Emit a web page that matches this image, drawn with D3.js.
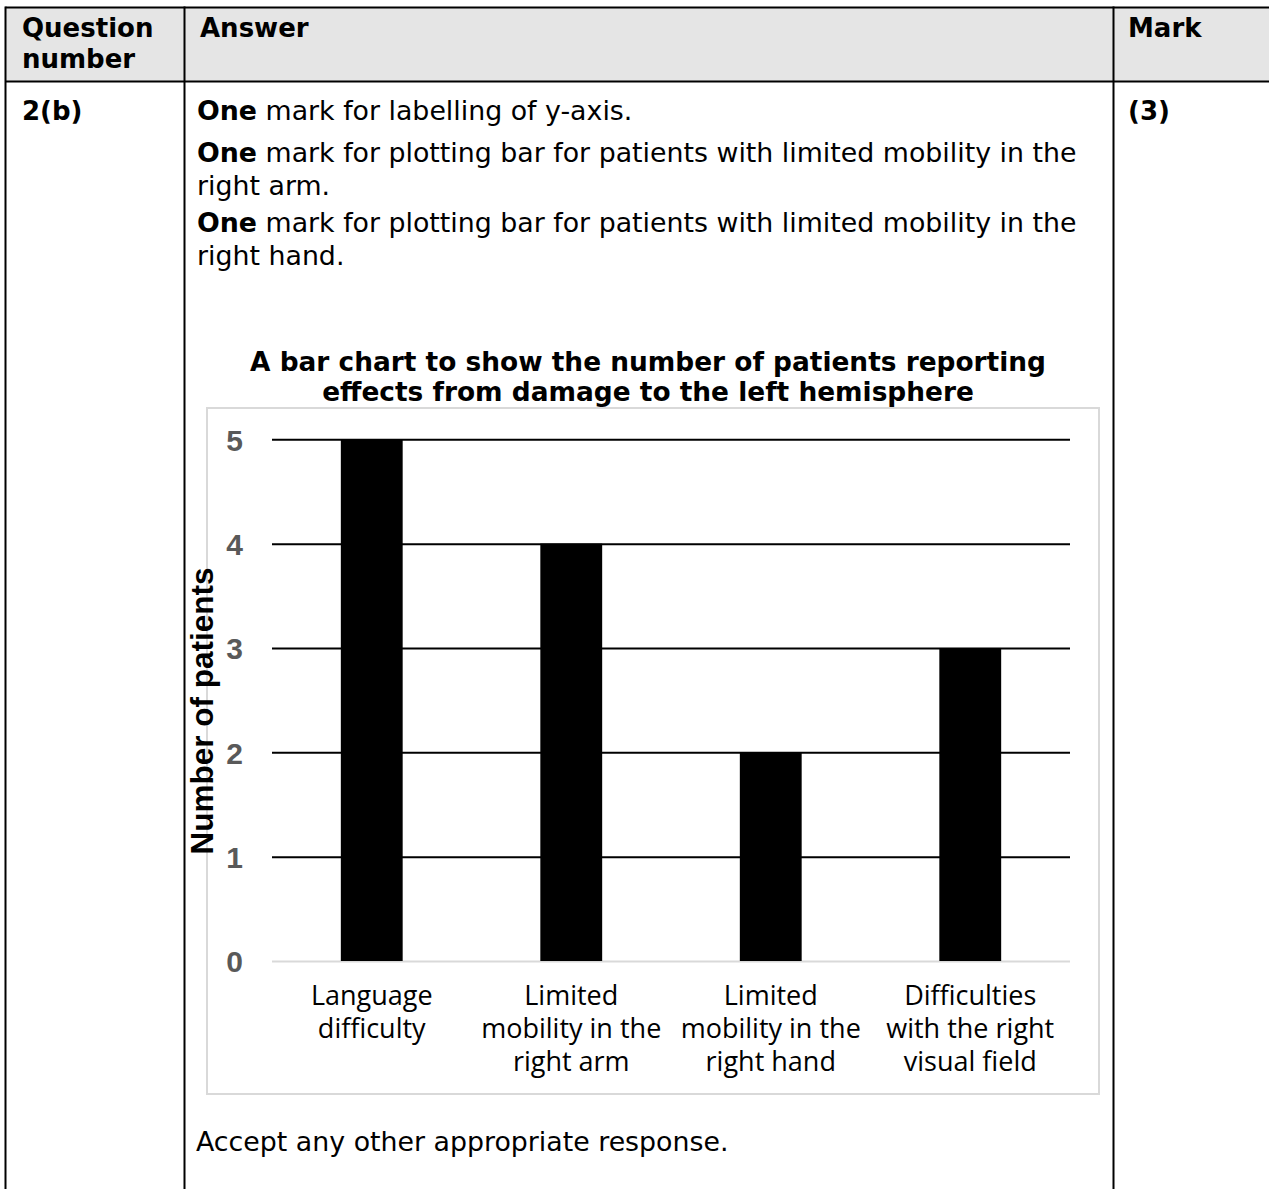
<!DOCTYPE html>
<html>
<head>
<meta charset="utf-8">
<script src="https://cdn.jsdelivr.net/npm/d3@7"></script>
<style>
  body { margin: 0; background: #fff; }
  svg { display: block; }
</style>
</head>
<body>
<div id="page"></div>
<script>
// chart data
const categories = [
  ["Language", "difficulty"],
  ["Limited", "mobility in the", "right arm"],
  ["Limited", "mobility in the", "right hand"],
  ["Difficulties", "with the right", "visual field"]
];
const patients = [5, 4, 2, 3];
const yTicks = [0, 1, 2, 3, 4, 5];
const chartTitle = ["A bar chart to show the number of patients reporting",
                    "effects from damage to the left hemisphere"];
const yLabel = "Number of patients";

// mark scheme text
const headers = [["Question", "number"], ["Answer"], ["Mark"]];
const questionNo = "2(b)";
const mark = "(3)";
const answerLines = [
  {bold: "One", rest: " mark for labelling of y-axis."},
  {bold: "One", rest: " mark for plotting bar for patients with limited mobility in the"},
  {bold: "", rest: "right arm."},
  {bold: "One", rest: " mark for plotting bar for patients with limited mobility in the"},
  {bold: "", rest: "right hand."}
];
const footer = "Accept any other appropriate response.";

const W = 1269, H = 1189;
const svg = d3.select("#page").append("svg")
  .attr("width", W).attr("height", H);

const verdana = "Verdana, 'DejaVu Sans', sans-serif";

// table
const col1 = 184.5, col2 = 1113.5, tTop = 7.5, headBottom = 81.5, tLeft = 5.5;
svg.append("rect").attr("x", tLeft).attr("y", tTop)
  .attr("width", W - tLeft + 5).attr("height", headBottom - tTop)
  .attr("fill", "#e5e5e5");
const lines = svg.append("g").attr("stroke", "#000").attr("stroke-width", 2);
lines.append("line").attr("x1", tLeft).attr("x2", W).attr("y1", tTop).attr("y2", tTop);
lines.append("line").attr("x1", tLeft).attr("x2", W).attr("y1", headBottom).attr("y2", headBottom);
[tLeft, col1, col2].forEach(xx =>
  lines.append("line").attr("x1", xx).attr("x2", xx).attr("y1", tTop - 1).attr("y2", H));

const hx = [22, 200, 1128];
headers.forEach((h, i) => {
  h.forEach((t, j) => {
    svg.append("text").attr("x", hx[i]).attr("y", 37 + j * 31)
      .attr("font-family", verdana).attr("font-weight", "bold")
      .attr("font-size", 26).text(t);
  });
});
svg.append("text").attr("x", 22).attr("y", 120)
  .attr("font-family", verdana).attr("font-weight", "bold").attr("font-size", 26)
  .text(questionNo);
svg.append("text").attr("x", 1128).attr("y", 120)
  .attr("font-family", verdana).attr("font-weight", "bold").attr("font-size", 26)
  .text(mark);

const ansY = [120, 162, 195, 232, 265];
answerLines.forEach((l, i) => {
  const t = svg.append("text").attr("x", 197).attr("y", ansY[i])
    .attr("font-family", verdana).attr("font-size", 26.8);
  if (l.bold) t.append("tspan").attr("font-weight", "bold").text(l.bold);
  t.append("tspan").text(l.rest);
});
svg.append("text").attr("x", 196).attr("y", 1151)
  .attr("font-family", verdana).attr("font-size", 26.8).text(footer);

// chart
chartTitle.forEach((t, i) => {
  svg.append("text").attr("x", 648).attr("y", 371 + i * 30)
    .attr("text-anchor", "middle")
    .attr("font-family", verdana).attr("font-weight", "bold")
    .attr("font-size", 26.4).text(t);
});

svg.append("rect").attr("x", 207).attr("y", 408)
  .attr("width", 892).attr("height", 686)
  .attr("fill", "none").attr("stroke", "#d9d9d9").attr("stroke-width", 2);

const plot = {left: 272, right: 1070, top: 439.3, bottom: 961};

const x = d3.scaleBand()
  .domain(d3.range(categories.length))
  .range([plot.left, plot.right])
  .paddingInner(0.69).paddingOuter(0.345);

const y = d3.scaleLinear()
  .domain([0, 5])
  .range([plot.bottom, plot.top]);

// gridlines
const grid = svg.append("g")
  .attr("transform", `translate(${plot.left},0)`)
  .call(d3.axisLeft(y).tickValues(yTicks).tickSize(-(plot.right - plot.left)).tickFormat(""));
grid.select(".domain").remove();
grid.selectAll(".tick line")
  .attr("stroke", d => d === 0 ? "#d9d9d9" : "#000")
  .attr("stroke-width", 2);

// y tick labels
const yAxis = svg.append("g")
  .attr("transform", "translate(243,0)")
  .call(d3.axisLeft(y).tickValues(yTicks).tickSize(0).tickPadding(0).tickFormat(d3.format("d")));
yAxis.select(".domain").remove();
yAxis.selectAll("text")
  .attr("font-family", "'Liberation Sans', Arial, sans-serif")
  .attr("font-weight", "bold").attr("font-size", 30)
  .attr("fill", "#595959").attr("dy", "0.36em");

// bars
svg.append("g").selectAll("rect")
  .data(patients)
  .join("rect")
  .attr("x", (d, i) => x(i))
  .attr("y", d => y(d))
  .attr("width", x.bandwidth())
  .attr("height", d => y(0) - y(d))
  .attr("fill", "#000");

// category labels
const xl = svg.append("g").selectAll("text")
  .data(categories)
  .join("text")
  .attr("x", (d, i) => x(i) + x.bandwidth() / 2)
  .attr("y", 1005)
  .attr("text-anchor", "middle")
  .attr("font-family", "'Open Sans', sans-serif")
  .attr("font-size", 27)
  .attr("fill", "#000");
xl.selectAll("tspan")
  .data(d => d)
  .join("tspan")
  .attr("x", function() { return this.parentNode.getAttribute("x"); })
  .attr("dy", (d, i) => i === 0 ? 0 : 33)
  .text(d => d);

// y axis title
svg.append("text")
  .attr("transform", "translate(213,711) rotate(-90)")
  .attr("text-anchor", "middle")
  .attr("font-family", "'Liberation Sans', Arial, sans-serif")
  .attr("font-weight", "bold").attr("font-size", 31.5)
  .attr("fill", "#000")
  .text(yLabel);
</script>
</body>
</html>
